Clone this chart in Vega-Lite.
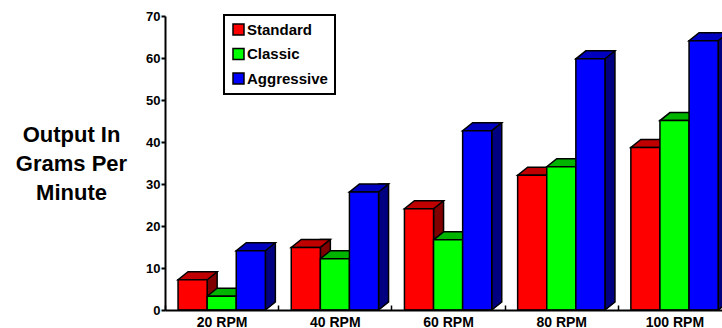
{
  "$schema": "https://vega.github.io/schema/vega-lite/v6.json",
  "usermeta": {"embedOptions": {"actions": false}},
  "width": 557,
  "height": 294,
  "autosize": {"type": "none"},
  "padding": {"left": 165, "top": 16, "right": 0, "bottom": 18},
  "background": "white",
  "config": {
    "view": {"stroke": null},
    "font": "Liberation Sans"
  },
  "data": {
    "values": [
      {"rpm": "20 RPM", "series": "Standard", "value": 7.2},
      {"rpm": "20 RPM", "series": "Classic", "value": 3.3},
      {"rpm": "20 RPM", "series": "Aggressive", "value": 14.1},
      {"rpm": "40 RPM", "series": "Standard", "value": 14.9},
      {"rpm": "40 RPM", "series": "Classic", "value": 12.2},
      {"rpm": "40 RPM", "series": "Aggressive", "value": 28.1},
      {"rpm": "60 RPM", "series": "Standard", "value": 24.1},
      {"rpm": "60 RPM", "series": "Classic", "value": 16.7},
      {"rpm": "60 RPM", "series": "Aggressive", "value": 42.7},
      {"rpm": "80 RPM", "series": "Standard", "value": 32.1},
      {"rpm": "80 RPM", "series": "Classic", "value": 34.1},
      {"rpm": "80 RPM", "series": "Aggressive", "value": 59.8},
      {"rpm": "100 RPM", "series": "Standard", "value": 38.7},
      {"rpm": "100 RPM", "series": "Classic", "value": 45.1},
      {"rpm": "100 RPM", "series": "Aggressive", "value": 64.1}
    ]
  },
  "encoding": {
    "x": {
      "field": "rpm",
      "type": "nominal",
      "sort": ["20 RPM", "40 RPM", "60 RPM", "80 RPM", "100 RPM"],
      "scale": {"range": [0, 566], "paddingInner": 0, "paddingOuter": 0},
      "axis": {
        "title": null,
        "labelAngle": 0,
        "labelFont": "Liberation Sans",
        "labelFontSize": 14,
        "labelFontWeight": "bold",
        "labelColor": "black",
        "labelPadding": 10,
        "tickBand": "extent",
        "tickSize": -5,
        "tickColor": "black",
        "tickWidth": 1.5,
        "domainColor": "black",
        "domainWidth": 2,
        "grid": false,
        "zindex": 1
      }
    },
    "xOffset": {
      "field": "series",
      "type": "nominal",
      "scale": {"type": "band", "domain": ["Standard", "Classic", "Aggressive"], "range": [13.05, 100.35], "paddingInner": 0, "paddingOuter": 0}
    },
    "y": {
      "field": "value",
      "type": "quantitative",
      "stack": null,
      "scale": {"domain": [0, 70], "nice": false},
      "axis": {
        "title": ["Output In", "Grams Per", "Minute"],
        "titleAngle": 0,
        "titleFont": "Liberation Sans",
        "titleFontSize": 22,
        "titleFontWeight": "bold",
        "titleColor": "black",
        "titleLineHeight": 29,
        "titleAlign": "center",
        "titleBaseline": "middle",
        "titleX": -94,
        "titleY": 118,
        "values": [0, 10, 20, 30, 40, 50, 60, 70],
        "labelFont": "Liberation Sans",
        "labelFontSize": 13,
        "labelFontWeight": "bold",
        "labelColor": "black",
        "labelPadding": 1,
        "tickSize": 4,
        "tickWidth": 2,
        "tickColor": "black",
        "domainColor": "black",
        "domainWidth": 2,
        "grid": false,
        "zindex": 1
      }
    }
  },
  "layer": [
    {
      "description": "side faces: narrow bars lifted by the depth offset",
      "mark": {"type": "bar", "width": 10, "yOffset": -8, "y2Offset": 0, "stroke": "black", "strokeWidth": 1.5},
      "encoding": {
        "xOffset": {
          "field": "series",
          "type": "nominal",
          "scale": {"type": "band", "domain": ["Standard", "Classic", "Aggressive"], "range": [32.6, 119.9], "paddingInner": 0, "paddingOuter": 0}
        },
        "fill": {
          "field": "series",
          "type": "nominal",
          "scale": {"domain": ["Standard", "Classic", "Aggressive"], "range": ["#800000", "#008000", "#000080"]},
          "legend": null
        }
      }
    },
    {
      "description": "floor gap under the last side face",
      "transform": [{"filter": "datum.series === 'Aggressive'"}],
      "mark": {"type": "point", "shape": "M14.55,0.6L24.55,-7.4L26.5,-7.4L26.5,1.5L14.55,1.5Z", "size": 4, "filled": true, "opacity": 1, "fill": "white", "strokeWidth": 0},
      "encoding": {"y": {"datum": 0}}
    },
    {
      "description": "lower edge of the last side face",
      "transform": [{"filter": "datum.series === 'Aggressive'"}],
      "mark": {"type": "point", "shape": "M14.55,0L24.55,-8", "size": 4, "filled": false, "opacity": 1, "stroke": "black", "strokeWidth": 1.5},
      "encoding": {"y": {"datum": 0}}
    },
    {
      "description": "top faces as a fixed parallelogram symbol",
      "mark": {"type": "point", "shape": "M-14.55,0L14.55,0L24.55,-8L-4.55,-8Z", "size": 4, "filled": true, "opacity": 1, "stroke": "black", "strokeWidth": 1.5, "strokeJoin": "miter"},
      "encoding": {
        "fill": {
          "field": "series",
          "type": "nominal",
          "scale": {"domain": ["Standard", "Classic", "Aggressive"], "range": ["#C00000", "#00B400", "#0000C0"]},
          "legend": null
        }
      }
    },
    {
      "description": "front faces",
      "mark": {"type": "bar", "stroke": "black", "strokeWidth": 1.5},
      "encoding": {
        "fill": {
          "field": "series",
          "type": "nominal",
          "scale": {"domain": ["Standard", "Classic", "Aggressive"], "range": ["#FF0000", "#00FF00", "#0000FF"]},
          "legend": {
            "title": null,
            "orient": "none",
            "legendX": 59,
            "legendY": -1,
            "symbolType": "square",
            "symbolSize": 121,
            "symbolStrokeColor": "black",
            "symbolStrokeWidth": 1.5,
            "symbolOpacity": 1,
            "labelFont": "Liberation Sans",
            "labelFontSize": 15,
            "labelFontWeight": "bold",
            "labelColor": "black",
            "labelOffset": 1,
            "rowPadding": 7.5,
            "padding": 7,
            "strokeColor": "black",
            "fillColor": "white",
            "encode": {"legend": {"update": {"strokeWidth": {"value": 2}}}}
          }
        }
      }
    }
  ],
  "resolve": {"scale": {"fill": "independent", "xOffset": "independent"}}
}
